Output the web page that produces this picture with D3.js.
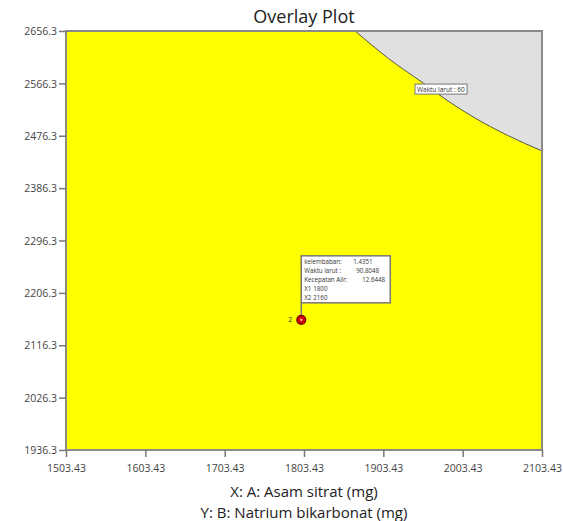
<!DOCTYPE html>
<html>
<head>
<meta charset="utf-8">
<script src="https://cdn.jsdelivr.net/npm/d3@7"></script>
<style>
  body { margin: 0; background: #fff; }
  text { font-family: "Open Sans", "Noto Sans", sans-serif; }
</style>
</head>
<body>
<div class="main"></div>
<script>
// axis ticks
const xTicks = [1503.43, 1603.43, 1703.43, 1803.43, 1903.43, 2003.43, 2103.43];
const yTicks = [1936.3, 2026.3, 2116.3, 2206.3, 2296.3, 2386.3, 2476.3, 2566.3, 2656.3];
// boundary of Waktu larut = 60 (x = A, y = B)
const boundaryX = [1867.9, 1910, 1953.6, 1985, 2016.7, 2060, 2103.43];
const boundaryY = [2656.3, 2609, 2566.9, 2536, 2508.6, 2477, 2450.2];
const contourLabel = "Waktu larut : 60";
// design point
const pointX = [1800];
const pointY = [2160];
const pointLabel = ["2"];
const tipNames = ["kelembaban:", "Waktu larut :", "Kecepatan Alir:", "X1", "X2"];
const tipValues = ["1.4351", "90.8048", "12.6448", "1800", "2160"];

let fullwidth = 563;
let fullheight = 521;
let margin = { top: 31, right: 21, bottom: 71, left: 66 };
let width = fullwidth - margin.left - margin.right;
let height = fullheight - margin.top - margin.bottom;

const root = d3.select(".main").append("svg")
  .attr("width", fullwidth)
  .attr("height", fullheight);

const svg = root.append("g")
  .attr("transform", "translate(" + margin.left + "," + margin.top + ")");

const x = d3.scaleLinear().domain([1503.43, 2103.43]).range([0, width]);
const y = d3.scaleLinear().domain([1936.3, 2656.3]).range([height, 0]);

// background: feasible region
svg.append("rect")
  .attr("width", width)
  .attr("height", height)
  .attr("fill", "#ffff00");

// infeasible region (grey) above the boundary
const pts = boundaryX.map((d, i) => [x(d), y(boundaryY[i])]);
const poly = pts.concat([[x(2103.43), y(2656.3)]]);
svg.append("path")
  .attr("d", "M" + poly.map(p => p.join(",")).join("L") + "Z")
  .attr("fill", "#e0e0e0");

svg.append("path")
  .attr("d", d3.line().curve(d3.curveMonotoneX)(pts))
  .attr("fill", "none")
  .attr("stroke", "#555")
  .attr("stroke-width", 1);

// contour label
const lx = x(1976), ly = y(2556);
const lg = svg.append("g");
const lt = lg.append("text")
  .attr("x", lx)
  .attr("y", ly + 2.2)
  .attr("text-anchor", "middle")
  .attr("font-size", 6.5)
  .attr("fill", "#333")
  .text(contourLabel);
const lb = lt.node().getBBox();
lg.insert("rect", "text")
  .attr("x", lb.x - 2)
  .attr("y", lb.y - 0.5)
  .attr("width", lb.width + 4)
  .attr("height", lb.height + 1)
  .attr("fill", "#fff")
  .attr("stroke", "#777")
  .attr("stroke-width", 1);

// frame
svg.append("rect")
  .attr("width", width)
  .attr("height", height)
  .attr("fill", "none")
  .attr("stroke", "#8a8a8a")
  .attr("stroke-width", 2);

// axes
const xAxis = svg.append("g")
  .attr("transform", "translate(0," + height + ")")
  .call(d3.axisBottom(x).tickValues(xTicks).tickFormat(d3.format(".2f")).tickSize(7).tickSizeOuter(0));
const yAxis = svg.append("g")
  .call(d3.axisLeft(y).tickValues(yTicks).tickFormat(d3.format(".1f")).tickSize(7).tickSizeOuter(0));
[xAxis, yAxis].forEach(a => {
  a.select(".domain").remove();
  a.selectAll("line").attr("stroke", "#777").attr("stroke-width", 1.5);
  a.selectAll("text").attr("fill", "#444").attr("font-size", 10.5)
    .style("font-family", "'Open Sans', sans-serif");
});
xAxis.selectAll("text").attr("dy", "1.15em");
yAxis.selectAll("text").attr("x", -9).attr("dy", "0.35em");

// design point with flag
const px = x(pointX[0]), py = y(pointY[0]);
const tipTop = py - 64, tipLeft = px;
svg.append("line")
  .attr("x1", px).attr("x2", px)
  .attr("y1", py).attr("y2", tipTop + 47)
  .attr("stroke", "#777")
  .attr("stroke-width", 1.5);
svg.append("rect")
  .attr("x", tipLeft)
  .attr("y", tipTop)
  .attr("width", 89)
  .attr("height", 47)
  .attr("fill", "#fff")
  .attr("stroke", "#777")
  .attr("stroke-width", 1.5);
const valueX = [52, 55, 61, 12, 12];
tipNames.forEach((t, i) => {
  const tt = svg.append("text")
    .attr("y", tipTop + 8.5 + i * 8.9)
    .attr("font-size", 6.2)
    .attr("fill", "#333");
  tt.append("tspan").attr("x", tipLeft + 3).text(t);
  tt.append("tspan").attr("x", tipLeft + valueX[i]).text(tipValues[i]);
});
svg.append("circle")
  .attr("cx", px).attr("cy", py).attr("r", 4.5)
  .attr("fill", "#d00000")
  .attr("stroke", "#6a0000")
  .attr("stroke-width", 1.2);
svg.append("circle")
  .attr("cx", px).attr("cy", py).attr("r", 1.4)
  .attr("fill", "#ff9999");
svg.append("text")
  .attr("x", px - 9)
  .attr("y", py + 2.5)
  .attr("text-anchor", "end")
  .attr("font-size", 7)
  .attr("fill", "#222")
  .text(pointLabel[0]);

// titles
root.append("text")
  .attr("x", 304).attr("y", 23)
  .attr("text-anchor", "middle")
  .attr("font-size", 18)
  .attr("fill", "#222")
  .text("Overlay Plot");
root.append("text")
  .attr("x", 304).attr("y", 497)
  .attr("text-anchor", "middle")
  .attr("font-size", 15)
  .attr("fill", "#222")
  .text("X: A: Asam sitrat (mg)");
root.append("text")
  .attr("x", 304).attr("y", 518)
  .attr("text-anchor", "middle")
  .attr("font-size", 15)
  .attr("fill", "#222")
  .text("Y: B: Natrium bikarbonat (mg)");
</script>
</body>
</html>
